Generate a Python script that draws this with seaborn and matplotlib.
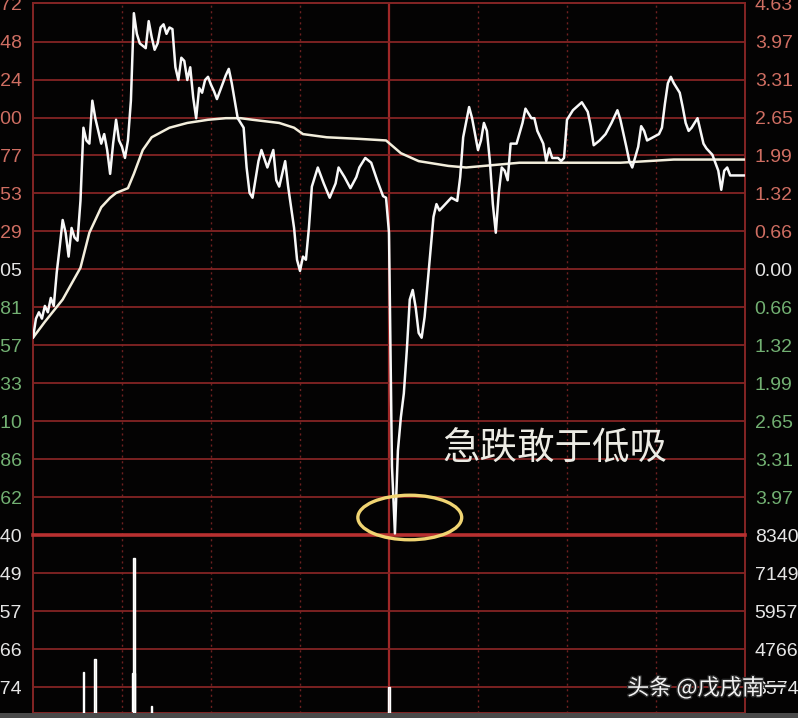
import numpy as np
import pandas as pd
import matplotlib
matplotlib.use("Agg")
import matplotlib.pyplot as plt
from matplotlib.patches import Ellipse, Rectangle
import matplotlib.patheffects as pe
import seaborn as sns

# --- data ---
prev_close = 36.05
price_top = 37.72

price_labels = ["37.72", "37.48", "37.24", "37.00", "36.77", "36.53", "36.29",
                "36.05", "35.81", "35.57", "35.33", "35.10", "34.86", "34.62"]
pct_labels = ["4.63", "3.97", "3.31", "2.65", "1.99", "1.32", "0.66",
              "0.00", "0.66", "1.32", "1.99", "2.65", "3.31", "3.97"]
vol_ticks = [8340, 7149, 5957, 4766, 3574]

price_minutes = [0, 1, 2, 3, 4, 5, 6, 7, 8, 9, 10, 11, 12, 13, 14, 15, 16, 17, 18, 19,
                 20, 21, 23, 24, 25, 26, 27, 28, 29, 30, 31, 32, 33, 34, 35, 36, 38, 39, 40, 41,
                 42, 43, 44, 45, 46, 47, 48, 49, 50, 51, 52, 53, 54, 55, 56, 57, 58, 59, 60, 61,
                 62, 64, 65, 66, 67, 69, 71, 72, 73, 74, 76, 77, 79, 81, 82, 83, 85, 86, 88, 89,
                 90, 91, 92, 93, 94, 96, 98, 100, 102, 103, 105, 107, 109, 110, 112, 114, 116, 118, 119, 120,
                 121, 122, 123, 124, 125, 126, 127, 128, 129, 130, 131, 132, 133, 134, 135, 136, 137, 139, 141, 143,
                 144, 145, 147, 148, 150, 151, 152, 153, 154, 155, 156, 157, 158, 159, 160, 161, 163, 165, 166, 168,
                 169, 170, 172, 173, 174, 175, 177, 178, 179, 180, 182, 185, 187, 188, 189, 191, 193, 195, 197, 198,
                 200, 201, 202, 204, 205, 206, 207, 209, 211, 212, 213, 214, 215, 216, 218, 219, 220, 221, 222, 224,
                 225, 226, 227, 229, 231, 232, 233, 234, 235, 240]
price_values = [35.62, 35.74, 35.78, 35.74, 35.82, 35.78, 35.87, 35.82, 36.03, 36.19, 36.36, 36.28, 36.13, 36.31, 36.25, 36.23, 36.48, 36.94, 36.86, 36.84,
                37.11, 37.00, 36.84, 36.90, 36.80, 36.65, 36.84, 36.99, 36.86, 36.82, 36.75, 36.86, 37.11, 37.66, 37.53, 37.47, 37.44, 37.61, 37.51, 37.43,
                37.47, 37.57, 37.59, 37.53, 37.57, 37.56, 37.32, 37.24, 37.38, 37.36, 37.24, 37.32, 37.13, 37.00, 37.19, 37.16, 37.24, 37.26, 37.21, 37.17,
                37.12, 37.22, 37.27, 37.31, 37.22, 37.00, 36.94, 36.69, 36.53, 36.50, 36.73, 36.80, 36.69, 36.80, 36.61, 36.57, 36.73, 36.57, 36.31, 36.11,
                36.04, 36.13, 36.11, 36.31, 36.57, 36.69, 36.59, 36.50, 36.59, 36.69, 36.63, 36.56, 36.63, 36.69, 36.75, 36.72, 36.61, 36.51, 36.50, 36.28,
                34.81, 34.39, 34.91, 35.12, 35.27, 35.54, 35.86, 35.92, 35.81, 35.65, 35.62, 35.75, 35.96, 36.17, 36.38, 36.46, 36.42, 36.46, 36.50, 36.48,
                36.63, 36.88, 37.07, 37.00, 36.80, 36.86, 36.97, 36.92, 36.73, 36.46, 36.28, 36.53, 36.69, 36.67, 36.61, 36.84, 36.84, 36.97, 37.06, 37.00,
                37.00, 36.92, 36.84, 36.73, 36.81, 36.75, 36.75, 36.73, 36.75, 36.99, 37.05, 37.10, 37.04, 36.95, 36.83, 36.86, 36.90, 36.97, 37.05, 36.99,
                36.82, 36.73, 36.69, 36.82, 36.95, 36.92, 36.86, 36.88, 36.90, 36.94, 37.09, 37.22, 37.26, 37.22, 37.16, 37.07, 36.97, 36.92, 36.94, 37.00,
                36.92, 36.84, 36.81, 36.77, 36.67, 36.55, 36.67, 36.69, 36.64, 36.64]

avg_minutes = [0, 4, 10, 16, 19, 23, 26, 28, 32, 34, 37, 40, 46, 52, 59, 65, 70, 74, 83, 88,
               91, 99, 110, 119, 124, 130, 140, 146, 164, 198, 216, 240]
avg_values = [35.62, 35.72, 35.86, 36.06, 36.28, 36.44, 36.50, 36.53, 36.56, 36.65, 36.80, 36.88, 36.94, 36.97, 36.99, 37.00, 37.00, 36.99, 36.97, 36.94,
              36.90, 36.88, 36.87, 36.86, 36.78, 36.73, 36.70, 36.69, 36.72, 36.72, 36.74, 36.74]

vol_minutes = [17, 21, 34, 40, 120]
vol_values = [4044, 4452, 7619, 2978, 3574]
vol_colors = ["#e0d2a4", "#e6e2d6", "#ecebe4", "#e4dcc0", "#ead0d0"]

# --- styling ---
sns.set_style("dark")
plt.rcParams['font.family'] = ['Liberation Sans', 'DejaVu Sans']

BG = "#040303"
GRID = "#842424"
RED_TXT = "#cf6e62"
GREEN_TXT = "#72b072"
WHITE_TXT = "#e6e6e6"

W, H = 798, 718

def px_box(x0, y0, x1, y1):
    return [x0 / W, 1 - y1 / H, (x1 - x0) / W, (y1 - y0) / H]

fig = plt.figure(figsize=(W / 100, H / 100), dpi=100, facecolor=BG)
axv = fig.add_axes(px_box(33, 535, 745, 713))
ax = fig.add_axes(px_box(33, 3, 745, 535), sharex=axv)
ax.set_zorder(3)
axv.set_zorder(1)

price_bottom = 2 * prev_close - price_top
grid_pos = np.linspace(price_top, price_bottom, 15)

for a in (ax, axv):
    a.set_facecolor(BG)
    a.set_xlim(0, 240)
    for s in a.spines.values():
        s.set_color(GRID)
        s.set_linewidth(1.4)
    for m in range(30, 240, 30):
        if m == 120:
            a.axvline(m, color="#a02828", lw=1.6, zorder=1)
        else:
            a.axvline(m, color="#6e2020", lw=1.0, ls=(0, (1.5, 2.5)), zorder=1)
    a.tick_params(axis='x', bottom=False, labelbottom=False)

ax.set_ylim(price_bottom, price_top + 0.004)
for g in grid_pos[1:-1]:
    ax.axhline(g, color=GRID, lw=1.3, zorder=1)
ax.spines['bottom'].set_color("#b83030")
ax.spines['bottom'].set_linewidth(2.6)

sns.lineplot(x=avg_minutes, y=avg_values, ax=ax, color="#f3eedc", lw=1.8,
             estimator=None, sort=False, zorder=3)
sns.lineplot(x=price_minutes, y=price_values, ax=ax, color="#f8f8f8", lw=1.8,
             estimator=None, sort=False, zorder=4)

axv.set_ylim(2759, 8341)
for v in vol_ticks[1:]:
    axv.axhline(v, color=GRID, lw=1.3, zorder=1)
axv.spines['top'].set_visible(False)
axv.bar([34], [4000], width=1.1, color="#e2c47a", zorder=2)
axv.bar(vol_minutes, vol_values, width=0.55, color=vol_colors, zorder=3)

# left / right tick labels
lab_font = dict(fontsize=14)
ax.set_yticks(grid_pos[:14])
ax.set_yticklabels(price_labels, **lab_font)
ax.tick_params(axis='y', length=0, pad=8)
axr = ax.twinx()
axr.set_zorder(3)
axr.set_ylim(ax.get_ylim())
axr.set_yticks(grid_pos[:14])
axr.set_yticklabels(pct_labels, **lab_font)
axr.tick_params(axis='y', length=0, pad=7)
for s in axr.spines.values():
    s.set_visible(False)
for i, (tl, tr) in enumerate(zip(ax.get_yticklabels(), axr.get_yticklabels())):
    c = RED_TXT if i < 7 else (WHITE_TXT if i == 7 else GREEN_TXT)
    tl.set_color(c)
    tr.set_color(c)

axv.set_yticks(vol_ticks)
axv.set_yticklabels([str(v) for v in vol_ticks], color=WHITE_TXT, **lab_font)
axv.tick_params(axis='y', length=0, pad=8)
axvr = axv.twinx()
axvr.set_ylim(axv.get_ylim())
axvr.set_yticks(vol_ticks)
axvr.set_yticklabels([str(v) for v in vol_ticks], color=WHITE_TXT, **lab_font)
axvr.tick_params(axis='y', length=0, pad=7)
for s in axvr.spines.values():
    s.set_visible(False)
ax.set_xlabel("")
ax.set_ylabel("")
axv.set_ylabel("")

# annotation: circle around the low and the caption
ell = Ellipse((127, 34.49), width=35, height=0.28, fill=False, edgecolor="#f0d472",
              lw=2.4, clip_on=False, zorder=6)
ax.add_patch(ell)

cjk = ['Noto Sans CJK SC', 'DejaVu Sans']
fig.text(555 / W, 1 - 449 / H, "急跌敢于低吸", family=cjk, fontsize=27,
         color="#ecebe4", ha='center', va='center')

fig.text(627 / W, 1 - 688 / H, "头条 @戊戌南一", family=cjk, fontsize=16,
         color="#f4f4f4", ha='left', va='center', zorder=10,
         path_effects=[pe.withStroke(linewidth=2, foreground="#2a2a2a")])

fig.patches.append(Rectangle((0, 0), 1, 5 / H, transform=fig.transFigure,
                             facecolor="#4a4a4a", edgecolor='none'))

fig.savefig("out.png", dpi=100, facecolor=BG)
